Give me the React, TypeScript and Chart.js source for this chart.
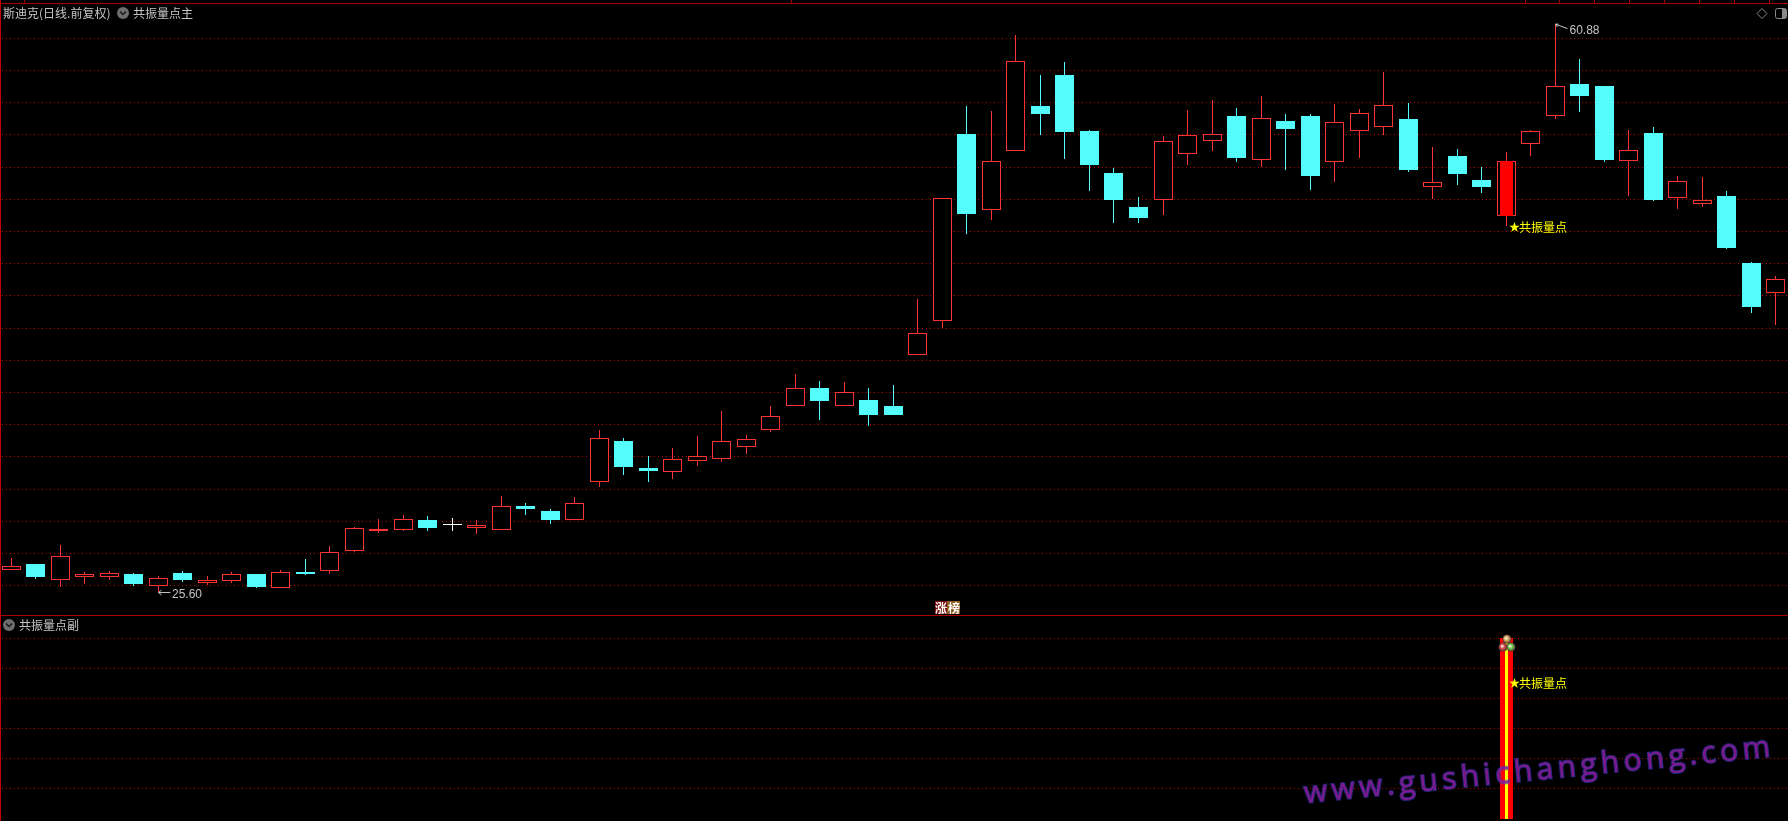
import React, { useEffect, useRef } from "react";
import { Chart, registerables } from "chart.js";

Chart.register(...registerables);

const opens = [26.97,27.34,26.35,26.53,26.53,26.72,25.97,26.78,26.16,26.29,26.72,25.85,26.84,26.91,28.15,29.39,29.45,30.08,29.83,29.58,29.45,30.95,30.63,30.08,32.44,34.98,33.31,33.06,33.74,33.87,34.61,35.67,37.16,38.28,37.16,37.53,37.16,40.33,42.44,54.06,49.33,53.00,55.80,57.72,54.24,51.63,49.52,49.96,52.81,53.62,55.17,52.44,54.86,55.17,52.32,54.24,54.49,54.99,50.76,52.69,51.20,48.96,53.43,55.17,57.16,57.04,52.38,54.12,50.08,49.71,50.20,46.04,44.18];
const closes = [27.22,26.53,27.84,26.72,26.78,26.10,26.47,26.35,26.35,26.72,25.91,26.84,26.72,28.09,29.58,29.52,30.14,29.58,29.77,29.77,30.95,30.76,30.08,31.13,35.17,33.37,33.12,33.87,34.05,34.98,35.11,36.54,38.28,37.47,38.03,36.60,36.60,41.69,50.08,49.09,52.38,58.59,55.30,54.18,52.13,49.96,48.84,53.62,53.99,54.06,52.56,55.05,54.37,51.45,54.80,55.36,55.86,51.82,51.07,51.57,50.76,52.38,54.24,57.04,56.42,52.44,53.06,49.96,51.14,49.96,46.97,43.31,45.05];
const highs = [27.71,27.34,28.52,26.84,26.91,26.78,26.60,26.91,26.60,26.84,26.72,26.97,27.65,28.46,29.64,30.14,30.39,30.32,30.20,30.08,31.57,31.13,30.76,31.50,35.67,35.17,34.05,34.55,35.29,36.85,35.36,37.16,39.15,38.71,38.65,38.28,38.46,43.81,50.08,55.80,55.48,60.21,57.72,58.53,54.30,51.94,50.14,53.93,55.55,56.17,55.67,56.42,55.30,55.30,55.92,55.61,57.91,55.98,53.25,53.12,52.01,52.94,54.30,60.88,58.72,57.04,54.30,54.49,51.45,51.38,50.51,46.10,45.23];
const lows = [26.97,26.41,25.91,26.10,26.35,25.97,25.60,26.22,26.04,26.16,25.85,25.85,26.66,26.72,28.09,29.27,29.39,29.39,29.39,29.21,29.45,30.39,29.83,30.08,32.13,32.87,32.44,32.62,33.43,33.68,34.18,35.54,37.16,36.29,37.16,35.92,36.60,40.33,42.00,47.84,48.71,53.00,53.99,52.50,50.51,48.53,48.53,49.02,52.13,53.00,52.32,52.01,51.82,50.58,51.07,52.56,53.99,51.70,50.02,50.89,50.39,48.34,52.69,54.99,55.42,52.32,50.20,49.89,49.40,49.52,46.91,42.94,42.19];

const priceGrid = [26,28,30,32,34,36,38,40,42,44,46,48,50,52,54,56,58,60];
const subGrid = [1,2,3,4,5,6];
const signalIndex = [61];
const signalValue = [6];
const highLabel = "60.88";
const lowLabel = "25.60";
const mainTitle = "斯迪克(日线.前复权)";
const mainIndicator = "共振量点主";
const subIndicator = "共振量点副";
const signalText = "共振量点";
const badgeText = ["涨", "榜"];
const watermark = "www.gushichanghong.com";

const W = 1788;
const H = 821;
const SPACING = 24.5107;
const slot = (i: number) => Math.floor(i * SPACING);
const RED = "#FF3232";
const CYAN = "#54FCFC";
const GRID = "#C00000";
const LINE = "#A80000";
const TXT = "#C4C4C4";
const CJK = '"Noto Sans CJK SC"';

const isDoji = (i: number) => Math.abs(opens[i] - closes[i]) < 0.1;
const isUp = (i: number) => closes[i] >= opens[i];
const candleColor = (i: number) => (isDoji(i) ? "#FFFFFF" : isUp(i) ? RED : CYAN);

const snap = {
  id: "snap",
  beforeDatasetDraw(_c: any, args: any) {
    args.meta.data.forEach((el: any) => {
      el.y = Math.round(el.y);
      el.base = Math.round(el.base);
    });
  },
};

function chevron(ctx: CanvasRenderingContext2D, x: number, y: number) {
  ctx.fillStyle = "#6E6E6E";
  ctx.beginPath();
  ctx.arc(x, y, 6, 0, Math.PI * 2);
  ctx.fill();
  ctx.strokeStyle = "#1A1A1A";
  ctx.lineWidth = 1.5;
  ctx.beginPath();
  ctx.moveTo(x - 3, y - 1.5);
  ctx.lineTo(x, y + 1.5);
  ctx.lineTo(x + 3, y - 1.5);
  ctx.stroke();
}

function ball(ctx: CanvasRenderingContext2D, x: number, y: number, c: string) {
  const g = ctx.createRadialGradient(x - 1, y - 1, 0.5, x, y, 4.5);
  g.addColorStop(0, "#F0E8D8");
  g.addColorStop(0.4, c);
  g.addColorStop(1, "#503030");
  ctx.fillStyle = g;
  ctx.beginPath();
  ctx.arc(x, y, 4.5, 0, Math.PI * 2);
  ctx.fill();
}

function signalLabel(ctx: CanvasRenderingContext2D, y: number) {
  ctx.fillStyle = "#FFFF00";
  ctx.font = `11px ${CJK}`;
  ctx.fillText("★", 1509, y);
  ctx.font = `12px ${CJK}`;
  ctx.fillText(signalText, 1519, y);
}

const decorations = {
  id: "decorations",
  afterDraw(chart: any) {
    const ctx: CanvasRenderingContext2D = chart.ctx;
    ctx.save();
    ctx.textBaseline = "middle";

    ctx.fillStyle = LINE;
    ctx.fillRect(0, 3, W, 1);
    ctx.fillRect(0, 615, W, 1);
    ctx.fillStyle = "#C00000";
    ctx.fillRect(0, 0, 1, H);
    ctx.fillStyle = LINE;
    [24, 791, 1525, 1559, 1594, 1629, 1664, 1699, 1734, 1769].forEach((x) => ctx.fillRect(x, 0, 1, 3));

    ctx.fillStyle = TXT;
    ctx.font = `12px ${CJK}`;
    ctx.fillText(mainTitle, 3, 13);
    chevron(ctx, 123, 13);
    ctx.fillStyle = TXT;
    ctx.font = `12px ${CJK}`;
    ctx.fillText(mainIndicator, 133, 13);
    chevron(ctx, 9, 625);
    ctx.fillStyle = TXT;
    ctx.font = `12px ${CJK}`;
    ctx.fillText(subIndicator, 19, 625);

    ctx.strokeStyle = "#8A8A8A";
    ctx.lineWidth = 1;
    ctx.beginPath();
    ctx.moveTo(1762, 8.5);
    ctx.lineTo(1767, 13.5);
    ctx.lineTo(1762, 18.5);
    ctx.lineTo(1757, 13.5);
    ctx.closePath();
    ctx.stroke();
    ctx.strokeStyle = "#8A8A8A";
    ctx.beginPath();
    ctx.roundRect(1775.5, 8.5, 11, 10, 2);
    ctx.stroke();
    ctx.fillStyle = "#8A8A8A";
    ctx.fillRect(1782, 9, 4, 9);

    ctx.strokeStyle = TXT;
    ctx.fillStyle = TXT;
    ctx.lineWidth = 1;
    const xs: any = chart.scales.x;
    const ym: any = chart.scales.yMain;
    const hiX = xs.getPixelForValue(slot(highs.indexOf(Math.max(...highs))));
    const hiY = ym.getPixelForValue(Math.max(...highs));
    ctx.beginPath();
    ctx.moveTo(hiX, hiY);
    ctx.lineTo(hiX + 12, hiY + 4.5);
    ctx.moveTo(hiX, hiY);
    ctx.lineTo(hiX + 3, hiY);
    ctx.moveTo(hiX, hiY);
    ctx.lineTo(hiX + 2, hiY + 3);
    ctx.stroke();
    ctx.font = '12px "Liberation Sans"';
    ctx.fillText(highLabel, hiX + 14, hiY + 6.5);
    const loX = xs.getPixelForValue(slot(lows.indexOf(Math.min(...lows))));
    const loY = ym.getPixelForValue(Math.min(...lows));
    ctx.beginPath();
    ctx.moveTo(loX, loY + 0.5);
    ctx.lineTo(loX + 12, loY + 0.5);
    ctx.moveTo(loX, loY + 0.5);
    ctx.lineTo(loX + 3, loY - 2);
    ctx.moveTo(loX, loY + 0.5);
    ctx.lineTo(loX + 3, loY + 3);
    ctx.stroke();
    ctx.fillText(lowLabel, loX + 13.5, loY + 3);

    signalLabel(ctx, 227);
    signalLabel(ctx, 683);

    ctx.fillStyle = "#7A0A0A";
    ctx.fillRect(935, 601, 12, 13);
    ctx.fillStyle = "#8A5A1E";
    ctx.fillRect(947, 601, 13, 13);
    ctx.fillStyle = "#FFFFFF";
    ctx.font = `bold 12px ${CJK}`;
    ctx.fillText(badgeText[0], 935, 608);
    ctx.fillText(badgeText[1], 948, 608);

    ball(ctx, 1507, 639, "#D8B060");
    ball(ctx, 1503, 647, "#E05050");
    ball(ctx, 1511, 647, "#70D050");

    ctx.translate(1305, 803);
    ctx.rotate((-5.7 * Math.PI) / 180);
    ctx.textBaseline = "alphabetic";
    ctx.font = '30px "Open Sans"';
    (ctx as any).letterSpacing = "4.4px";
    ctx.fillStyle = "rgba(150,25,150,0.8)";
    ctx.strokeStyle = "rgba(55,60,200,0.6)";
    ctx.lineWidth = 2;
    ctx.strokeText(watermark, 0, 0);
    ctx.fillText(watermark, 0, 0);
    ctx.restore();
  },
};

const gridOptions = { color: GRID, lineWidth: 1, drawTicks: false };
const borderOptions = { display: false, dash: [1, 3], dashOffset: 2 };

export default function App() {
  const ref = useRef<HTMLCanvasElement>(null);
  useEffect(() => {
    document.body.style.margin = "0";
    document.body.style.background = "#000";
    const xsAll = opens.map((_, i) => slot(i));
    const chart = new Chart(ref.current as HTMLCanvasElement, {
      type: "bar",
      data: {
        datasets: [
          {
            data: xsAll.map((x, i) => ({ x, y: [lows[i], highs[i]] })),
            yAxisID: "yMain",
            barThickness: 1,
            backgroundColor: opens.map((_, i) => candleColor(i)),
            inflateAmount: 0,
            order: 5,
            grouped: false,
          },
          {
            data: xsAll.map((x, i) => ({ x, y: [Math.min(opens[i], closes[i]), Math.max(opens[i], closes[i])] })),
            yAxisID: "yMain",
            barThickness: 19,
            backgroundColor: opens.map((_, i) => (isDoji(i) ? "#FFFFFF" : isUp(i) ? "#000000" : CYAN)),
            borderColor: opens.map((_, i) => candleColor(i)),
            borderWidth: opens.map((_, i) => (isDoji(i) ? 0 : 1)),
            borderSkipped: false,
            inflateAmount: 0,
            order: 4,
            grouped: false,
          },
          {
            data: signalIndex.map((i) => ({ x: slot(i), y: [opens[i], closes[i]] })),
            yAxisID: "yMain",
            barThickness: 13,
            backgroundColor: "#FF0000",
            inflateAmount: 0,
            order: 3,
            grouped: false,
          },
          {
            data: signalIndex.map((i, k) => ({ x: slot(i), y: [0, signalValue[k]] })),
            yAxisID: "ySub",
            barThickness: 13,
            backgroundColor: "#FF0000",
            inflateAmount: 0,
            order: 2,
            grouped: false,
          },
          {
            data: signalIndex.map((i, k) => ({ x: slot(i), y: [0, signalValue[k]] })),
            yAxisID: "ySub",
            barThickness: 3,
            backgroundColor: "#FFFF00",
            inflateAmount: 0,
            order: 1,
            grouped: false,
          },
        ] as any,
      },
      options: {
        responsive: false,
        animation: false,
        devicePixelRatio: 1,
        events: [],
        layout: { padding: 0 },
        plugins: { legend: { display: false }, tooltip: { enabled: false }, title: { display: false } },
        scales: {
          x: { type: "linear", min: -11.5, max: 1776.5, display: false, offset: false, grid: { display: false } },
          ySub: {
            type: "linear",
            position: "left",
            stack: "panes",
            stackWeight: 206,
            weight: 0,
            min: -0.066,
            max: 6.774,
            afterBuildTicks: (s: any) => {
              s.ticks = subGrid.map((value) => ({ value }));
            },
            ticks: { display: false },
            border: borderOptions,
            grid: gridOptions,
          },
          yMain: {
            type: "linear",
            position: "left",
            stack: "panes",
            stackWeight: 615,
            weight: 1,
            min: 24.174,
            max: 62.38,
            afterBuildTicks: (s: any) => {
              s.ticks = priceGrid.map((value) => ({ value }));
            },
            ticks: { display: false },
            border: borderOptions,
            grid: gridOptions,
          },
        },
      } as any,
      plugins: [snap, decorations],
    });
    return () => chart.destroy();
  }, []);
  return (
    <div style={{ position: "fixed", left: 0, top: 0, width: W, height: H, background: "#000" }}>
      <canvas ref={ref} width={W} height={H} style={{ display: "block", background: "#000" }} />
    </div>
  );
}
